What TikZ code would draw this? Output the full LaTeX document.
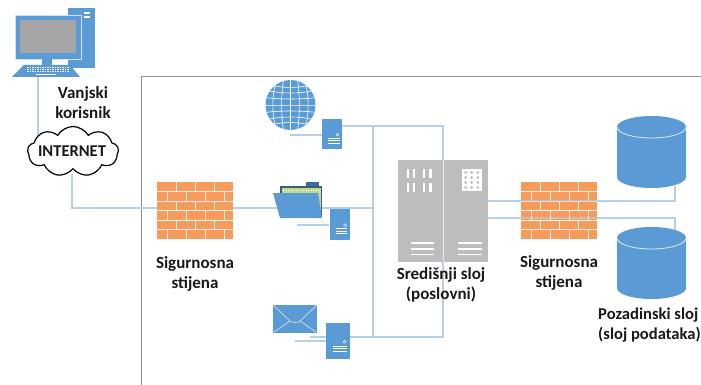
\documentclass[tikz,border=0pt]{standalone}
\usepackage{fontspec}
\setmainfont{Carlito}
\usetikzlibrary{shapes.symbols}
\definecolor{wire}{HTML}{B8D0E4}
\definecolor{iconblue}{HTML}{5B9BD5}
\definecolor{rack}{HTML}{BDBDBD}
\definecolor{brick}{HTML}{F79B5C}
\definecolor{framegray}{HTML}{8C8C8C}
\definecolor{screen}{HTML}{A6A6A6}
\tikzset{
  x=1pt,y=-1pt,
  wireline/.style={draw=wire,line width=1.25pt},
  label/.style={font=\fontsize{17}{20}\selectfont\bfseries,align=center,text=black!90,inner sep=0},
  srvbox/.style={fill=iconblue,draw=none,inner sep=0,anchor=north west},
}
\newcommand{\firewall}[3]{% name, x, y
  \node[fill=brick,minimum width=76pt,minimum height=57pt,inner sep=0,anchor=north west] (#1) at (#2,#3) {};
  \begin{scope}[shift={(#2,#3)}]
    \clip (0,0) rectangle (76,57);
    \foreach \r in {1,...,5}{\draw[white!85!brick,line width=.9pt] (0,\r*9.5) -- (76,\r*9.5);}
    \foreach \r in {0,2,4}{\foreach \c in {19,38,57}{\draw[white!85!brick,line width=.9pt] (\c,\r*9.5) -- (\c,\r*9.5+9.5);}}
    \foreach \r in {1,3,5}{\foreach \c in {10,29,48,67}{\draw[white!85!brick,line width=.9pt] (\c,\r*9.5) -- (\c,\r*9.5+9.5);}}
  \end{scope}}
\newcommand{\server}[5]{% name, x, y, w, h
  \node[srvbox,minimum width=#4pt,minimum height=#5pt] (#1) at (#2,#3) {};
  \begin{scope}[shift={(#2,#3)}]
    \draw[white,line width=.5pt] (#4*.77,#5*.52) circle (1.4);
    \foreach \f in {.64,.72,.80}{\draw[white,line width=1pt] (#4*.3,#5*\f) -- (#4*.88,#5*\f);}
  \end{scope}}
\newcommand{\database}[3]{% name, x, y
  \node[fill=none,inner sep=0,minimum width=69pt,minimum height=72pt,anchor=north west] (#1) at (#2,#3) {};
  \begin{scope}[shift={(#2,#3)}]
    \fill[iconblue] (0,11) arc[x radius=34.5,y radius=11,start angle=180,end angle=360] -- (69,61) arc[x radius=34.5,y radius=11,start angle=0,end angle=180] -- cycle;
    \draw[white!80!iconblue,line width=.8pt] (0,11) arc[x radius=34.5,y radius=11,start angle=180,end angle=0];
  \end{scope}}
\begin{document}
\begin{tikzpicture}
\useasboundingbox (0,0) rectangle (701,385);
\fill[white] (0,0) rectangle (701,385);
% frame
\draw[framegray,line width=1pt] (141,385) -- (141,77) -- (701,77);

% free connector points
\coordinate (pcfoot) at (38,77);
\coordinate (cloudtop) at (38,146);
\coordinate (cloudbot) at (72,174);
\coordinate (elbow) at (72,208);
\coordinate (busTop) at (373,126);
\coordinate (busFolder) at (373,208);
\coordinate (busBot) at (373,337);
\coordinate (rackTop) at (443,126);
\coordinate (rackBot) at (443,337);
\coordinate (globeFoot) at (290,135);
\coordinate (folderFoot) at (297,225);
\coordinate (mailFootA) at (295,341);
\coordinate (mailFootB) at (310,337);
\coordinate (dbElbowA) at (675,201);
\coordinate (dbElbowB) at (675,218);
\coordinate (rackOutA) at (488,201);
\coordinate (rackOutB) at (488,218);
\coordinate (dbInA) at (675,186);
\coordinate (dbInB) at (675,231);
\coordinate (rackBase) at (443,262);
\coordinate (rackHead) at (443,160);

% connectors
\draw[wireline] (pcfoot) -- (cloudtop);
\draw[wireline] (cloudbot) -- (elbow) -- (busFolder);
\draw[wireline] (busTop) -- (busBot);
\draw[wireline] (globeFoot) -- (322,135);
\draw[wireline] (342,126) -- (busTop) -- (rackTop) -- (rackHead);
\draw[wireline] (folderFoot) -- (329,225);
\draw[wireline] (mailFootA) -- (326,341);
\draw[wireline] (mailFootB) -- (326,337);
\draw[wireline] (350,337) -- (busBot) -- (rackBot) -- (rackBase);
\draw[wireline] (rackOutA) -- (dbElbowA) -- (dbInA);
\draw[wireline] (rackOutB) -- (dbElbowB) -- (dbInB);

% computer
\node[fill=iconblue,inner sep=0,minimum width=27pt,minimum height=60pt,anchor=north west] (tower) at (68,8) {};
\fill[white] (84,12) rectangle (90,14);
\fill[white] (84,16) rectangle (90,18);
\node[fill=iconblue,draw=white!70!iconblue,line width=.6pt,inner sep=0,minimum width=66pt,minimum height=44pt,anchor=north west] (monitor) at (15,15) {};
\fill[screen] (19.5,20) rectangle (76,53);
\fill[iconblue] (42,59) rectangle (52,65);
\fill[iconblue] (12,77) -- (80,77) -- (70,65) -- (24,65) -- cycle;
\foreach \yy in {67.5,69.5,71.5}{\draw[white,line width=.7pt,dash pattern=on 1.6pt off .9pt] (27,\yy) -- (69,\yy);}
\draw[white,line width=.8pt] (36,74) -- (56,74);

% cloud
\node[cloud,cloud puffs=9,cloud puff arc=120,aspect=1.9,draw=black,fill=white,line width=1.2pt,minimum width=91pt,minimum height=50pt,inner sep=0] (cloud) at (73,151.5) {};
\node[font=\fontsize{16.5}{16.5}\selectfont\bfseries,inner sep=0,text=black!90] (inet) at (72,151) {INTERNET};

% firewalls
\firewall{fwa}{157}{182}
\firewall{fwb}{521}{182}
\draw[wireline,draw opacity=.6] (rackOutA) -- (dbElbowA);
\draw[wireline,draw opacity=.6] (rackOutB) -- (dbElbowB);

% globe
\node[circle,fill=iconblue,inner sep=0,minimum size=50pt] (globe) at (290.5,105) {};
\begin{scope}
  \clip (290.5,105) circle (25);
  \foreach \dx in {0,7,-7,14,-14,20,-20}{\draw[white,line width=.6pt] (290.5+\dx,80) .. controls (290.5+\dx*1.35,95) and (290.5+\dx*1.35,115) .. (290.5+\dx,130);}
  \foreach \dy in {-19,-13,-6.5,0,6.5,13,19}{\draw[white,line width=.6pt] (265,105+\dy*1.15) .. controls (280,105+\dy*.85) and (301,105+\dy*.85) .. (316,105+\dy*1.15);}
\end{scope}

% servers
\server{srva}{322}{119}{20}{30}
\server{srvb}{329.5}{209}{20}{31}
\server{srvc}{326}{323}{24}{36}

% folder
\node[fill=iconblue!70!black,inner sep=0,minimum width=13pt,minimum height=5pt,anchor=north west] (tab) at (306,182) {};
\node[fill=iconblue!60!black,inner sep=0,minimum width=42pt,minimum height=32pt,anchor=north west] (folderback) at (280,186) {};
\fill[green!30!yellow!50!gray!60] (282,188) rectangle (321,218);
\draw[white,line width=1pt,dash pattern=on 1pt off 1.5pt] (283,190.5) -- (320,190.5);
\fill[iconblue] (273,193) -- (318,193) -- (322,218) -- (280,218) -- cycle;

% envelope
\node[fill=iconblue,inner sep=0,minimum width=44pt,minimum height=28pt,anchor=north west] (mail) at (273,305) {};
\draw[white!70!iconblue,line width=.7pt] (273,305) -- (290,321) .. controls (292,323) and (298,323) .. (300,321) -- (317,305);
\draw[white!70!iconblue,line width=.7pt] (274,332) -- (290,321) (300,321) -- (316,332);

% central rack
\node[fill=rack,inner sep=0,minimum width=90pt,minimum height=102pt,anchor=north west] (rackbox) at (398,160) {};
\draw[white!60!wire,line width=.8pt] (rackHead) -- (rackBase);
\foreach \xx in {406.7,412.8,422.8,429.2}{
  \fill[white] (\xx,169) rectangle (\xx+2.6,178);
  \fill[white] (\xx,183) rectangle (\xx+2.6,192);
}
\fill[white] (461.7,169) rectangle (481.7,191);
\foreach \xx in {465.5,471.7,477.9}{\foreach \yy in {172.5,177.5,182.5,187.5}{\fill[rack] (\xx,\yy) circle (1.5);}}
\foreach \yy in {243,249,254.5}{
  \fill[white] (410.7,\yy-.6) rectangle (434,\yy+.6);
  \fill[white] (458,\yy-.6) rectangle (481.7,\yy+.6);
}

% databases
\database{dba}{617}{116}
\database{dbb}{617}{227}

% labels
\node[label] (lpc) at (83,102.5) {Vanjski\\korisnik};
\node[label] (lfa) at (195,273.5) {Sigurnosna\\stijena};
\node[label] (lfb) at (559,272.5) {Sigurnosna\\stijena};
\node[label] (lmid) at (441,285) {Središnji sloj\\(poslovni)};
\node[label,font=\fontsize{16.6}{20}\selectfont\bfseries,align=left,anchor=north west] (ldb) at (598,307.5) {Pozadinski sloj\\(sloj podataka)};
\end{tikzpicture}
\end{document}
